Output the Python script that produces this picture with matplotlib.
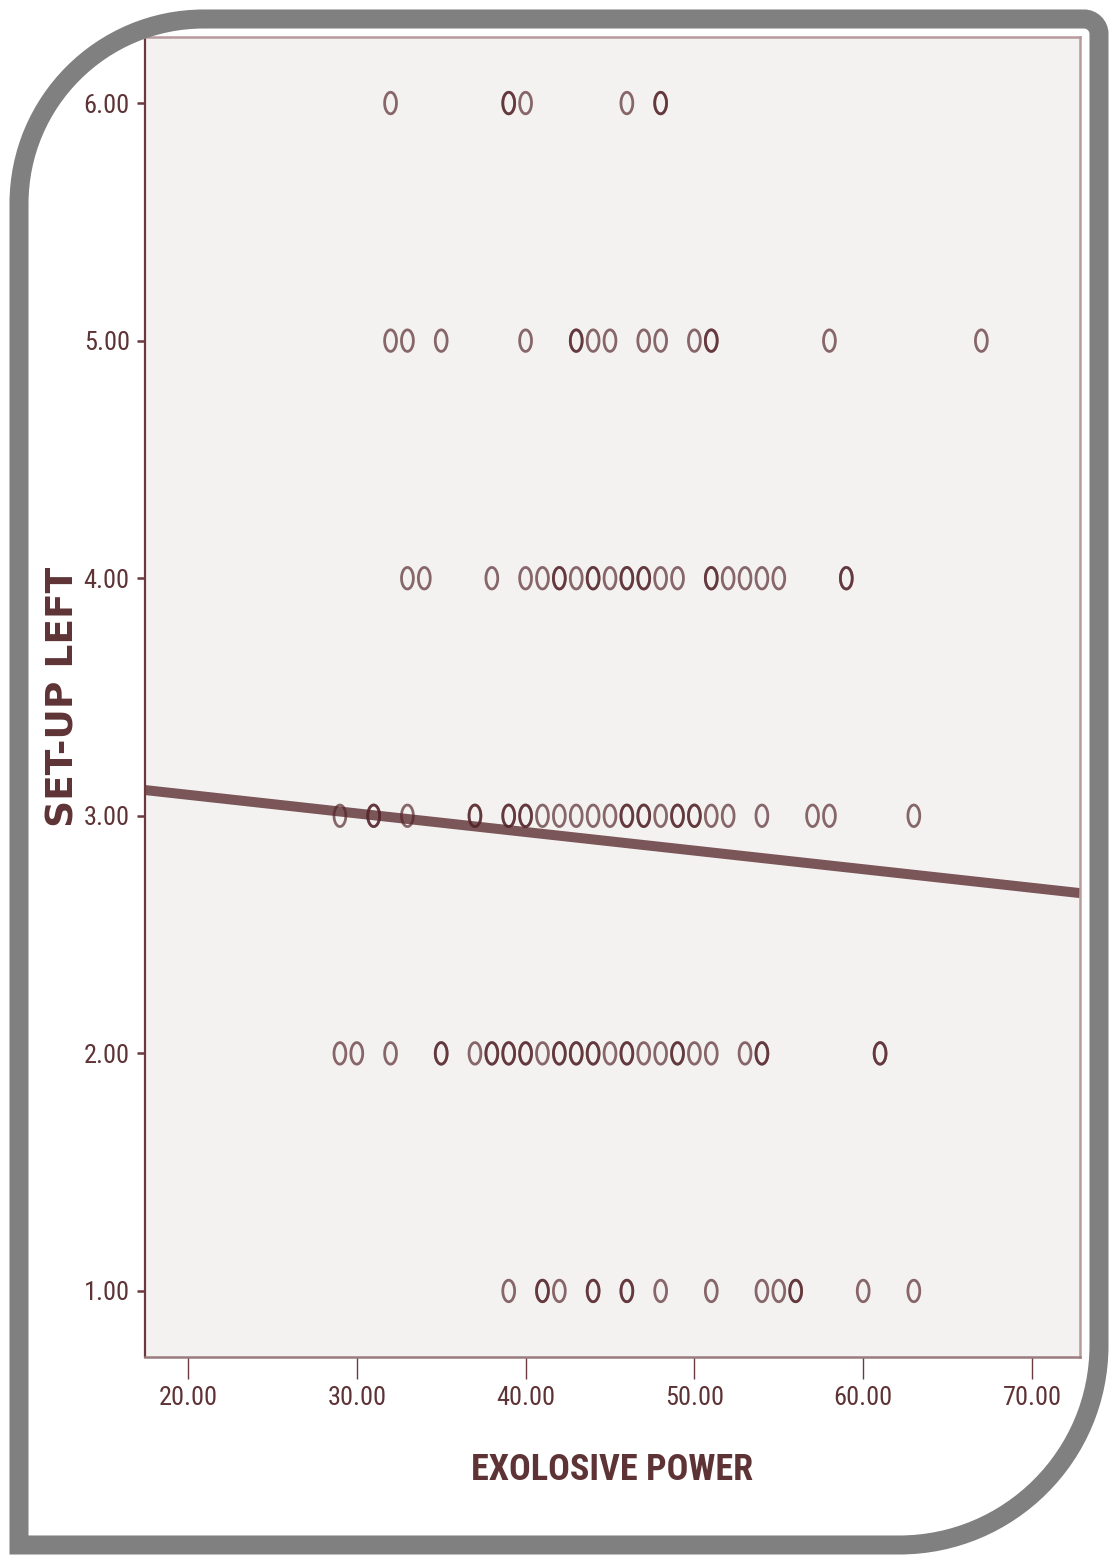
import numpy as np
import matplotlib
matplotlib.use("Agg")
import matplotlib.pyplot as plt
from matplotlib.path import Path
from matplotlib.patches import PathPatch
from matplotlib import font_manager

# Explosive power scores grouped by set-up (left) rating
power_set6 = [32, 39, 39, 40, 46, 48, 48]
power_set5 = [32, 33, 35, 40, 43, 43, 44, 45, 47, 48, 50, 51, 51, 58, 67]
power_set4 = [33, 34, 38, 40, 41, 42, 42, 43, 44, 44, 45, 46, 46, 47, 47,
              48, 49, 51, 51, 52, 53, 54, 55, 59, 59]
power_set3 = [29, 31, 31, 33, 37, 37, 39, 39, 40, 40, 41, 42, 43, 44, 45,
              46, 46, 47, 47, 48, 49, 49, 50, 50, 51, 52, 54, 57, 58, 63]
power_set2 = [29, 30, 32, 35, 35, 37, 38, 38, 39, 39, 40, 40, 41, 42, 42,
              43, 43, 44, 44, 45, 46, 46, 47, 48, 49, 49, 50, 51, 53, 54,
              54, 61, 61]
power_set1 = [39, 41, 41, 42, 44, 44, 46, 46, 48, 51, 54, 55, 56, 56, 60, 63]

setup_levels = [6, 5, 4, 3, 2, 1]
power_groups = [power_set6, power_set5, power_set4, power_set3, power_set2, power_set1]

# Linear fit line (intercept, slope)
fit_intercept = 3.245
fit_slope = -0.00783

x_ticks = [20, 30, 40, 50, 60, 70]
y_ticks = [1, 2, 3, 4, 5, 6]

x_all = np.concatenate([np.array(g, float) for g in power_groups])
y_all = np.concatenate([np.full(len(g), lvl, float) for g, lvl in zip(power_groups, setup_levels)])

# Prefer a narrow sans face for the axis text when one is available
installed = {(f.name, f.stretch) for f in font_manager.fontManager.ttflist}
names = {n for n, _ in installed}
narrow_family, narrow_stretch, narrow_scale = "Roboto", "normal", 0.85
for fam in ["Liberation Sans Narrow", "Roboto Condensed", "Open Sans Condensed"]:
    if fam in names:
        narrow_family, narrow_scale = fam, 1.0
        break
else:
    if any(n == "DejaVu Sans" and s in ("condensed", 500, "semi-condensed")
           for n, s in installed):
        narrow_family, narrow_stretch, narrow_scale = "DejaVu Sans", "condensed", 0.9
narrow = [narrow_family, "DejaVu Sans"]

W, H = 1110, 1555
fig = plt.figure(figsize=(W / 100, H / 100), dpi=100)
fig.patch.set_facecolor("white")

text_col = "#5e3336"
spine_dark = "#6a3a3e"
spine_light = "#b89a9c"

ax = fig.add_axes([145 / W, 1 - 1357 / H, (1080 - 145) / W, (1357 - 37) / H])
ax.set_facecolor("#f4f2f1")
xlo, xhi = 17.453, 72.844
ax.set_xlim(xlo, xhi)
ax.set_ylim(0.722, 6.278)

# Regression line
xl = np.array([xlo, xhi])
ax.plot(xl, fit_intercept + fit_slope * xl, color="#7b5659", lw=7.2,
        solid_capstyle="butt", zorder=2)

# Tall narrow open ellipse marker
t = np.linspace(0, 2 * np.pi, 60)
ell = Path(np.column_stack([0.55 * np.cos(t), np.sin(t)]), closed=True)
ax.scatter(x_all, y_all, marker=ell, s=15.5 ** 2, facecolors="none",
           edgecolors=(0.33, 0.14, 0.16, 0.68), linewidths=2.0, zorder=3)

ax.set_xticks(x_ticks)
ax.set_xticklabels([f"{v:.2f}" for v in x_ticks])
ax.set_yticks(y_ticks)
ax.set_yticklabels([f"{v:.2f}" for v in y_ticks])
tick_size = 19 * narrow_scale
ax.tick_params(axis="x", direction="out", length=16, width=1.0, colors=spine_dark,
               pad=5, labelsize=tick_size, labelcolor=text_col)
ax.tick_params(axis="y", direction="out", length=6, width=1.8, colors=spine_dark,
               pad=5, labelsize=tick_size, labelcolor=text_col)
for lab in ax.get_xticklabels() + ax.get_yticklabels():
    lab.set_family(narrow)
    lab.set_stretch(narrow_stretch)

ax.spines["left"].set_color(spine_dark)
ax.spines["left"].set_linewidth(1.6)
for side in ["top", "right", "bottom"]:
    ax.spines[side].set_color(spine_light)
    ax.spines[side].set_linewidth(1.8)
ax.spines["bottom"].set_color("#9a7c7e")

ax.set_xlabel("EXOLOSIVE POWER", family=narrow, fontstretch=narrow_stretch,
              fontweight="bold", fontsize=26 * narrow_scale, color=text_col)
ax.xaxis.set_label_coords(0.5, (1357 - 1470) / 1320)
ax.xaxis.label.set_va("center")

ax.set_ylabel("SET-UP LEFT", family=["DejaVu Sans"], fontweight="bold",
              fontsize=27, color=text_col)
ax.yaxis.set_label_coords((64 - 145) / 935, 0.5)
ax.yaxis.label.set_va("center")

# Rounded gray border around the page
frame = fig.add_axes([0, 0, 1, 1], zorder=10)
frame.set_xlim(0, W)
frame.set_ylim(H, 0)
frame.axis("off")
frame.patch.set_alpha(0)

L, T, R, B = 19, 19, 1099, 1545
r1, r2, r3 = 185, 15, 200
k = 0.5523
verts = [
    (L, B),
    (L, T + r1),
    (L, T + r1 - k * r1), (L + r1 - k * r1, T), (L + r1, T),
    (R - r2, T),
    (R - r2 + k * r2, T), (R, T + r2 - k * r2), (R, T + r2),
    (R, B - r3),
    (R, B - r3 + k * r3), (R - r3 + k * r3, B), (R - r3, B),
    (L, B),
]
codes = [Path.MOVETO, Path.LINETO,
         Path.CURVE4, Path.CURVE4, Path.CURVE4,
         Path.LINETO,
         Path.CURVE4, Path.CURVE4, Path.CURVE4,
         Path.LINETO,
         Path.CURVE4, Path.CURVE4, Path.CURVE4,
         Path.CLOSEPOLY]
frame.add_patch(PathPatch(Path(verts, codes), facecolor="none",
                          edgecolor="#808080", lw=13.7, joinstyle="miter"))

fig.savefig("out.png", dpi=100)
